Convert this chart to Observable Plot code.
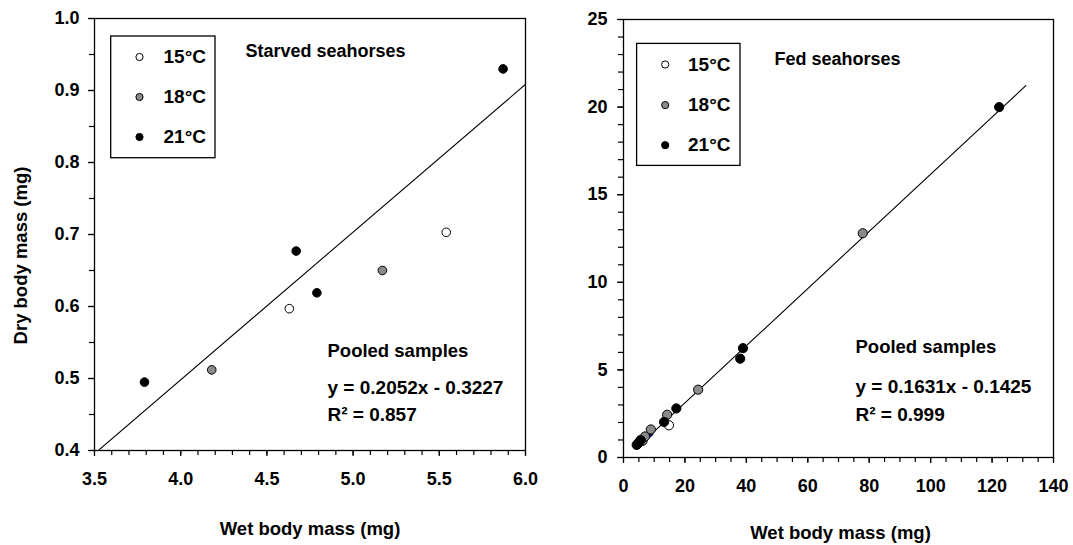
<!DOCTYPE html>
<html>
<head>
<meta charset="utf-8">
<script src="https://cdn.jsdelivr.net/npm/d3@7"></script>
<script src="https://cdn.jsdelivr.net/npm/@observablehq/plot@0.6"></script>
<style>
  html, body { margin: 0; padding: 0; background: #fff; }
  #wrap { position: relative; width: 1073px; height: 545px; overflow: hidden; background: #fff; }
  #left, #right { position: absolute; top: 0; }
  #left { left: 0; }
  #right { left: 540px; }
</style>
</head>
<body>
<div id="wrap"><div id="left"></div><div id="right"></div></div>
<script>
// ---------- Data ----------
const temps = ["15°C", "18°C", "21°C"];
const tempFill = ["white", "#8a8a8a", "black"];

// Starved seahorses (left panel)
const starved15 = [[4.63, 0.597], [5.54, 0.703]];
const starved18 = [[4.18, 0.512], [5.17, 0.650]];
const starved21 = [[3.79, 0.495], [4.67, 0.677], [4.79, 0.619], [5.87, 0.930]];
const starvedFit = {slope: 0.2052, intercept: -0.3227, xRange: [3.5, 6.0]};
const starvedEq = "y = 0.2052x - 0.3227";
const starvedR2 = "R² = 0.857";

// Fed seahorses (right panel)
const fed15 = [[14.8, 1.84]];
const fed18 = [[6.2, 0.95], [7.0, 1.20], [8.9, 1.60], [14.2, 2.44], [24.3, 3.87], [77.9, 12.8]];
const fed21 = [[4.3, 0.72], [4.8, 0.80], [5.1, 0.88], [5.6, 1.00], [13.2, 2.03], [17.2, 2.80], [38.0, 5.64], [38.9, 6.24], [122.3, 20.0]];
const fedBlue = [[4.6, 0.60], [9.2, 1.35]];
const fedFit = {slope: 0.1631, intercept: -0.1425, xRange: [4.0, 131]};
const fedEq = "y = 0.1631x - 0.1425";
const fedR2 = "R² = 0.999";

// Axis ticks
const leftXMajor = [3.5, 4.0, 4.5, 5.0, 5.5, 6.0];
const leftYMajor = [0.4, 0.5, 0.6, 0.7, 0.8, 0.9, 1.0];
const rightXMajor = [0, 20, 40, 60, 80, 100, 120, 140];
const rightYMajor = [0, 5, 10, 15, 20, 25];
const leftXMinor = d3.range(35, 61, 1).map(v => v / 10);
const leftYMinor = d3.range(40, 101, 5).map(v => v / 100);
const rightXMinor = d3.range(0, 141, 5);
const rightYMinor = d3.range(0, 26, 1);

const xLabel = "Wet body mass (mg)";
const yLabel = "Dry body mass (mg)";

// ---------- Helpers ----------
const font = "'Liberation Sans', Arial, Helvetica, sans-serif";
const toObj = arr => arr.map(([x, y]) => ({x, y}));
const fitLine = f => f.xRange.map(x => ({x, y: f.slope * x + f.intercept}));

function legendMarks(dotDx, textDx, dys, r) {
  const marks = [];
  temps.forEach((t, i) => {
    marks.push(Plot.dot([t], {frameAnchor: "top-left", dx: dotDx, dy: dys[i], r, fill: tempFill[i], stroke: "black", strokeWidth: 1}));
    marks.push(Plot.text([t], {frameAnchor: "top-left", dx: textDx, dy: dys[i], text: d => d, textAnchor: "start", lineAnchor: "middle", fontSize: 19, fontWeight: "bold"}));
  });
  return marks;
}

function panel(opts) {
  const svg = Plot.plot({
    width: opts.width, height: 545,
    marginLeft: opts.ml, marginRight: opts.mr, marginTop: opts.mt, marginBottom: opts.mb,
    x: {domain: opts.xDomain},
    y: {domain: opts.yDomain},
    style: {fontFamily: font, fontWeight: "bold", fontSize: "18px", color: "black", background: "white", overflow: "visible"},
    marks: [
      Plot.axisX({ticks: opts.xMinor, tickSize: 5, text: null, label: null, strokeWidth: 1.2}),
      Plot.axisX({ticks: opts.xMajor, tickSize: 6, tickPadding: 16, tickFormat: opts.xFmt, label: null, strokeWidth: 1.2, fontSize: 18}),
      Plot.axisY({ticks: opts.yMinor, tickSize: 5, text: null, label: null, strokeWidth: 1.2}),
      Plot.axisY({ticks: opts.yMajor, tickSize: 6, tickPadding: opts.yPad, tickFormat: opts.yFmt, label: null, strokeWidth: 1.2, fontSize: 18}),
      ...(opts.blue ? [Plot.line(toObj(opts.blue), {x: "x", y: "y", stroke: "#1f1fa8", strokeWidth: 3.5})] : []),
      Plot.line(fitLine(opts.fit), {x: "x", y: "y", stroke: "black", strokeWidth: 1.1, clip: true}),
      Plot.dot(toObj(opts.d15), {x: "x", y: "y", r: opts.r, fill: tempFill[0], stroke: "black", strokeWidth: 1}),
      Plot.dot(toObj(opts.d18), {x: "x", y: "y", r: opts.r, fill: tempFill[1], stroke: "black", strokeWidth: 1}),
      Plot.dot(toObj(opts.d21), {x: "x", y: "y", r: opts.r, fill: tempFill[2], stroke: "black", strokeWidth: 1}),
      Plot.frame({stroke: "black", strokeWidth: 1.3}),
      Plot.text([opts.title], {frameAnchor: "top-left", dx: opts.titleDx, dy: opts.titleDy, text: d => d, textAnchor: "start", lineAnchor: "middle", fontSize: 18, fontWeight: "bold"}),
      Plot.text(["Pooled samples"], {frameAnchor: "top-left", dx: opts.poolDx, dy: opts.poolDy, text: d => d, textAnchor: "start", lineAnchor: "middle", fontSize: 18.5, fontWeight: "bold"}),
      Plot.text([opts.eq], {frameAnchor: "top-left", dx: opts.poolDx, dy: opts.eqDy, text: d => d, textAnchor: "start", lineAnchor: "middle", fontSize: 19, fontWeight: "bold"}),
      Plot.text([opts.r2], {frameAnchor: "top-left", dx: opts.poolDx, dy: opts.r2Dy, text: d => d, textAnchor: "start", lineAnchor: "middle", fontSize: 19, fontWeight: "bold"}),
      Plot.text([xLabel], {frameAnchor: "bottom", dx: opts.xlDx, dy: opts.xlDy, text: d => d, textAnchor: "middle", lineAnchor: "middle", fontSize: 18.5, fontWeight: "bold"}),
      ...(opts.yLabel ? [Plot.text([opts.yLabel], {frameAnchor: "left", dx: -73, dy: 21, rotate: -90, text: d => d, textAnchor: "middle", lineAnchor: "middle", fontSize: 18.5, fontWeight: "bold"})] : []),
      ...legendMarks(opts.legDotDx, opts.legTextDx, opts.legDys, 3.6)
    ]
  });
  // legend box
  d3.select(svg).append("rect")
    .attr("x", opts.box[0]).attr("y", opts.box[1])
    .attr("width", opts.box[2]).attr("height", opts.box[3])
    .attr("fill", "none").attr("stroke", "black").attr("stroke-width", 1.3);
  return svg;
}

const left = panel({
  width: 540, ml: 94, mr: 15, mt: 18, mb: 95,
  xDomain: [3.5, 6.0], yDomain: [0.4, 1.0],
  xMajor: leftXMajor, xMinor: leftXMinor, yMajor: leftYMajor, yMinor: leftYMinor,
  xFmt: d => d.toFixed(1), yFmt: d => d.toFixed(1), yPad: 9,
  fit: starvedFit, d15: starved15, d18: starved18, d21: starved21, r: 4.3,
  title: "Starved seahorses", titleDx: 151, titleDy: 33,
  poolDx: 233, poolDy: 333, eqDy: 369, r2Dy: 396,
  eq: starvedEq, r2: starvedR2, xlDx: 0, xlDy: 79, yLabel: yLabel,
  legDotDx: 45, legTextDx: 69, legDys: [38.5, 78.5, 118.5],
  box: [110.7, 36, 104.3, 121.7]
});
document.getElementById("left").appendChild(left);

const right = panel({
  width: 533, ml: 83, mr: 20, mt: 19, mb: 88,
  xDomain: [0, 140], yDomain: [0, 25],
  xMajor: rightXMajor, xMinor: rightXMinor, yMajor: rightYMajor, yMinor: rightYMinor,
  xFmt: d => String(d), yFmt: d => String(d), yPad: 10,
  fit: fedFit, d15: fed15, d18: fed18, d21: fed21, r: 4.6, blue: fedBlue,
  title: "Fed seahorses", titleDx: 151, titleDy: 39.5,
  poolDx: 232, poolDy: 327.6, eqDy: 367, r2Dy: 395.7,
  eq: fedEq, r2: fedR2, xlDx: 2, xlDy: 76, yLabel: null,
  legDotDx: 41.7, legTextDx: 64.5, legDys: [45, 85.6, 125.7],
  box: [96.6, 43.4, 103.4, 122]
});
document.getElementById("right").appendChild(right);
</script>
</body>
</html>
